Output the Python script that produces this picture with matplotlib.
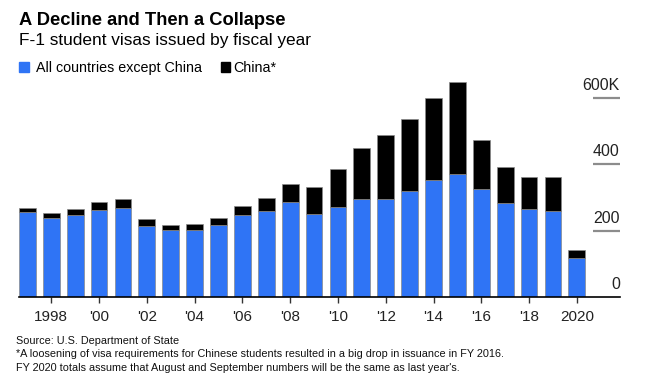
import matplotlib
matplotlib.use('Agg')
import matplotlib.pyplot as plt
from matplotlib.transforms import offset_copy

plt.rcParams['font.family'] = ['Liberation Sans', 'DejaVu Sans']

# F-1 visas issued, thousands
years = list(range(1997, 2021))
except_china = [256, 237, 246, 261, 267, 213, 201, 201, 216, 246, 258, 285,
                249, 270, 294, 296, 318, 351, 369, 324, 282, 264, 258, 116]
total = [267, 252, 264, 285, 294, 234, 217, 219, 237, 274, 297, 341,
         330, 384, 447, 486, 534, 598, 646, 471, 392, 362, 362, 140]
china = [t - e for t, e in zip(total, except_china)]

xtick_years = list(range(1998, 2021, 2))
xtick_labels = ['1998', "'00", "'02", "'04", "'06", "'08", "'10", "'12",
                "'14", "'16", "'18", '2020']
ytick_vals = [0, 200, 400, 600]
ytick_labels = ['0', '200', '400', '600K']

blue = '#2f74f5'

fig = plt.figure(figsize=(6.45, 3.9), dpi=100)
ax = fig.add_axes([0.0295, 0.2385, 0.9315, 0.5625])

ax.bar(years, except_china, width=0.7, color=blue, edgecolor='#8a8a8a', linewidth=0.5, zorder=2)
ax.bar(years, china, bottom=except_china, width=0.7, color='black', edgecolor='#8a8a8a', linewidth=0.5, zorder=2)

ax.set_xlim(1996.65, 2021.8)
ax.set_ylim(0, 660)

for s in ['top', 'right', 'left']:
    ax.spines[s].set_visible(False)
ax.spines['bottom'].set_color('black')
ax.spines['bottom'].set_linewidth(1.2)
ax.spines['bottom'].set_zorder(3)

ax.set_yticks([])
ax.set_xticks(xtick_years)
ax.set_xticklabels(xtick_labels, fontsize=11, color='#222222')
ax.tick_params(axis='x', length=4, width=1, color='#333333', pad=5.5)

# right-hand value scale: short gray rules with labels sitting above them
ytrans = ax.get_yaxis_transform()
lbl_trans = offset_copy(ytrans, fig=fig, x=0, y=9, units='points')
for v, lab in zip(ytick_vals, ytick_labels):
    if v > 0:
        ax.plot([0.955, 1.0], [v, v], transform=ytrans, color='#8c8c8c', lw=1.6,
                clip_on=False, solid_capstyle='butt')
    ax.text(1.0, v, lab, transform=lbl_trans, ha='right', va='center',
            fontsize=11.5, color='#222222')

fig.text(0.0295, 0.947, 'A Decline and Then a Collapse', fontsize=13.2,
         fontweight='bold', ha='left', va='center')
fig.text(0.0295, 0.896, 'F-1 student visas issued by fiscal year', fontsize=12.4,
         ha='left', va='center')

# legend
fig.patches.append(plt.Rectangle((19 / 645, 1 - 72 / 390), 10 / 645, 10 / 390,
                                 transform=fig.transFigure, color=blue))
fig.text(36 / 645, 1 - 68 / 390, 'All countries except China', fontsize=10.3,
         ha='left', va='center')
fig.patches.append(plt.Rectangle((221 / 645, 1 - 72 / 390), 9 / 645, 10 / 390,
                                 transform=fig.transFigure, color='black'))
fig.text(233 / 645, 1 - 68 / 390, 'China*', fontsize=10.3, ha='left', va='center')

foot = ('Source: U.S. Department of State\n'
        '*A loosening of visa requirements for Chinese students resulted in a big drop in issuance in FY 2016.\n'
        "FY 2020 totals assume that August and September numbers will be the same as last year's.")
fig.text(16 / 645, 1 - 336 / 390, foot, fontsize=7.8, ha='left', va='top',
         linespacing=1.42, color='#111111')

fig.savefig('out.png', dpi=100)
